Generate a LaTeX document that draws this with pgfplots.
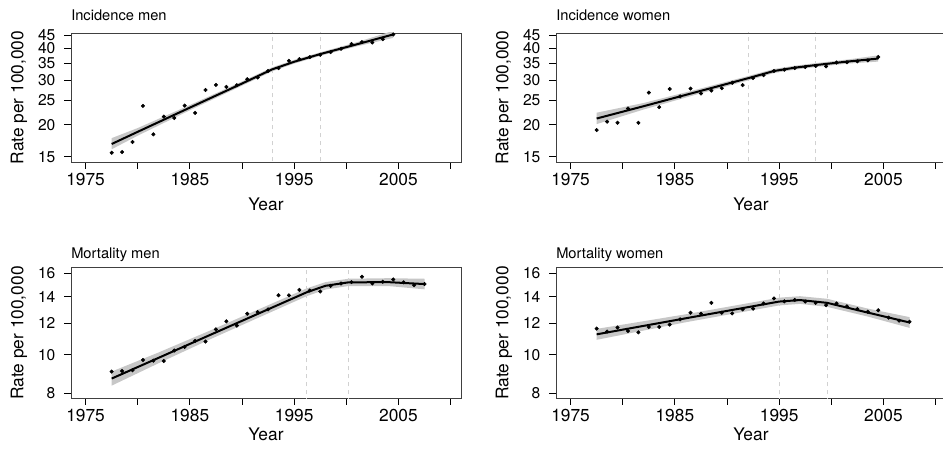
\documentclass[border=0pt]{standalone}
\usepackage{fontspec}
\setmainfont{TeX Gyre Heros}
\usepackage{pgfplots}
\pgfplotsset{compat=1.18}
\usepackage{pgfplotstable}

% Observed rates per 100,000 (plotted at mid-year)
\pgfplotstableread{
x y
1977.5 15.55
1978.5 15.65
1979.5 17.14
1980.5 23.76
1981.5 18.37
1982.5 21.57
1983.5 21.31
1984.5 23.83
1985.5 22.30
1986.5 27.45
1987.5 28.74
1988.5 28.22
1989.5 28.66
1990.5 30.27
1991.5 30.74
1992.5 32.60
1993.5 33.46
1994.5 35.75
1995.5 36.30
1996.5 36.97
1997.5 37.76
1998.5 38.70
1999.5 39.87
2000.5 41.60
2001.5 42.36
2002.5 42.20
2003.5 43.50
2004.5 45.40
}\IMobs

\pgfplotstableread{
x y
1977.5 19.1
1978.5 20.6
1979.5 20.4
1980.5 23.2
1981.5 20.4
1982.5 26.8
1983.5 23.5
1984.5 27.7
1985.5 25.9
1986.5 27.8
1987.5 26.6
1988.5 27.3
1989.5 27.9
1990.5 29.3
1991.5 28.7
1992.5 30.6
1993.5 31.4
1994.5 32.6
1995.5 33.0
1996.5 33.5
1997.5 33.8
1998.5 34.1
1999.5 34.0
2000.5 35.2
2001.5 35.3
2002.5 35.6
2003.5 35.9
2004.5 37.0
}\IWobs

\pgfplotstableread{
x y
1977.5 9.07
1978.5 9.10
1979.5 9.14
1980.5 9.70
1981.5 9.66
1982.5 9.64
1983.5 10.24
1984.5 10.46
1985.5 10.83
1986.5 10.79
1987.5 11.58
1988.5 12.13
1989.5 11.83
1990.5 12.68
1991.5 12.80
1992.5 13.00
1993.5 14.10
1994.5 14.10
1995.5 14.55
1996.5 14.50
1997.5 14.42
1998.5 14.90
1999.5 15.10
2000.5 15.22
2001.5 15.70
2002.5 15.10
2003.5 15.25
2004.5 15.46
2005.5 15.20
2006.5 14.96
2007.5 15.05
}\MMobs

\pgfplotstableread{
x y
1977.5 11.63
1978.5 11.43
1979.5 11.70
1980.5 11.47
1981.5 11.38
1982.5 11.74
1983.5 11.74
1984.5 11.90
1985.5 12.27
1986.5 12.75
1987.5 12.68
1988.5 13.50
1989.5 12.75
1990.5 12.70
1991.5 13.00
1992.5 13.05
1993.5 13.45
1994.5 13.85
1995.5 13.62
1996.5 13.73
1997.5 13.60
1998.5 13.50
1999.5 13.32
2000.5 13.45
2001.5 13.23
2002.5 13.02
2003.5 12.82
2004.5 12.93
2005.5 12.39
2006.5 12.18
2007.5 12.10
}\MWobs

% Joinpoint fits
\pgfplotstableread{
x y
1977.5 16.83
1980.0 18.80
1985.0 23.40
1990.0 29.10
1992.9 33.10
1995.0 35.45
1997.5 38.00
2001.0 41.50
2004.5 45.40
}\IMfit

\pgfplotstableread{
x y
1977.5 21.20
1982.0 23.70
1987.0 26.90
1992.1 30.60
1994.5 32.60
1996.5 33.60
1998.5 34.40
2001.5 35.50
2004.5 36.50
}\IWfit

\pgfplotstableread{
x y
1977.5 8.71
1982.0 9.82
1987.0 11.23
1992.0 12.83
1996.2 14.35
1998.0 14.90
2000.2 15.20
2004.0 15.22
2007.5 15.05
}\MMfit

\pgfplotstableread{
x y
1977.5 11.25
1986.0 12.34
1995.0 13.60
1997.0 13.72
1999.6 13.50
2003.5 12.76
2007.5 12.05
}\MWfit

% 95% confidence bands: upper limit forward, lower limit back
\pgfplotstableread{
x y
1977.5 17.75
1980.0 19.45
1985.0 23.95
1990.0 29.65
1992.9 33.70
1995.0 36.05
1997.5 38.60
2001.0 42.30
2004.5 46.90
2004.5 44.00
2001.0 40.75
1997.5 37.40
1995.0 34.85
1992.9 32.50
1990.0 28.55
1985.0 22.85
1980.0 18.15
1977.5 16.05
}\IMband

\pgfplotstableread{
x y
1977.5 22.35
1982.0 24.40
1987.0 27.50
1992.1 31.20
1994.5 33.20
1996.5 34.20
1998.5 35.00
2001.5 36.15
2004.5 37.55
2004.5 35.50
2001.5 34.85
1998.5 33.80
1996.5 33.00
1994.5 32.00
1992.1 30.00
1987.0 26.30
1982.0 23.00
1977.5 20.15
}\IWband

\pgfplotstableread{
x y
1977.5 9.07
1982.0 10.13
1987.0 11.52
1992.0 13.14
1996.2 14.68
1998.0 15.22
2000.2 15.52
2004.0 15.57
2007.5 15.52
2007.5 14.60
2004.0 14.88
2000.2 14.88
1998.0 14.58
1996.2 14.03
1992.0 12.53
1987.0 10.95
1982.0 9.52
1977.5 8.36
}\MMband

\pgfplotstableread{
x y
1977.5 11.61
1986.0 12.63
1995.0 13.91
1997.0 14.03
1999.6 13.82
2003.5 13.06
2007.5 12.43
2007.5 11.68
2003.5 12.47
1999.6 13.19
1997.0 13.42
1995.0 13.30
1986.0 12.06
1977.5 10.90
}\MWband

\newcommand{\labfont}{\fontsize{13}{15}\selectfont}
\newcommand{\yfont}{\fontsize{11.7}{13}\selectfont}
\newcommand{\titfont}{\fontsize{11}{13}\selectfont}

\pgfplotsset{
  jpanel/.style={
    scale only axis, anchor=south west,
    width=292.5pt,
    xmin=1973.6, xmax=2011,
    xtick={1975,1980,1985,1990,1995,2000,2005,2010},
    xticklabels={1975,,1985,,1995,,2005,},
    xtick pos=left, ytick pos=left,
    tick align=outside,
    major tick length=5pt,
    axis line style={draw=black!75, line width=0.7pt},
    every tick/.style={black, line width=0.7pt},
    xticklabel style={font=\labfont},
    yticklabel style={font=\yfont, inner xsep=0pt, inner ysep=0pt, xshift=-6.5pt},
    xlabel={\labfont Year}, ylabel={\labfont Rate per 100,000},
    every axis x label/.style={at={(axis description cs:0.5,0)}, anchor=base, inner sep=0pt},
    every axis y label/.style={at={(axis description cs:-0.1223,0.5)}, rotate=90, anchor=base, inner sep=0pt},
    every axis title shift=0pt,
    every axis title/.style={at={(axis description cs:0,1)}, anchor=base west, inner sep=0pt},
  },
  jincid/.style={ymin=14.3, ymax=46,
    ytick={15,20,25,30,35,40,45}, yticklabels={15,20,25,30,35,40,45},
    height=96.75pt, title style={yshift=9.5pt},
    every axis x label/.append style={yshift=-36.5pt}},
  jmort/.style={ymin=7.77, ymax=16.55,
    ytick={8,10,12,14,16}, yticklabels={8,10,12,14,16},
    height=98pt, title style={yshift=7pt},
    every axis x label/.append style={yshift=-31.5pt}},
  jband/.style={fill=black!22, draw=none},
  jfit/.style={black, line width=1.5pt},
  jobs/.style={only marks, mark=*, mark size=1.3pt, black},
  jjoint/.style={black!18, line width=0.75pt, dash pattern=on 3pt off 3pt},
}

\begin{document}
\begin{tikzpicture}

% Incidence, men
\begin{axis}[ymode=log, jpanel, jincid, at={(53.25pt,215.25pt)}, title={\titfont Incidence men}]
  \addplot[jband] table[x=x, y=y] {\IMband} -- cycle;
  \addplot[jjoint] coordinates {(1992.9,10) (1992.9,60)};
  \addplot[jjoint] coordinates {(1997.5,10) (1997.5,60)};
  \addplot[jfit] table[x=x, y=y] {\IMfit};
  \addplot[jobs] table[x=x, y=y] {\IMobs};
\end{axis}

% Incidence, women
\begin{axis}[ymode=log, jpanel, jincid, at={(417pt,215.25pt)}, title={\titfont Incidence women}]
  \addplot[jband] table[x=x, y=y] {\IWband} -- cycle;
  \addplot[jjoint] coordinates {(1992.1,10) (1992.1,60)};
  \addplot[jjoint] coordinates {(1998.5,10) (1998.5,60)};
  \addplot[jfit] table[x=x, y=y] {\IWfit};
  \addplot[jobs] table[x=x, y=y] {\IWobs};
\end{axis}

% Mortality, men
\begin{axis}[ymode=log, jpanel, jmort, at={(53.25pt,38pt)}, title={\titfont Mortality men}]
  \addplot[jband] table[x=x, y=y] {\MMband} -- cycle;
  \addplot[jjoint] coordinates {(1996.2,5) (1996.2,20)};
  \addplot[jjoint] coordinates {(2000.2,5) (2000.2,20)};
  \addplot[jfit] table[x=x, y=y] {\MMfit};
  \addplot[jobs] table[x=x, y=y] {\MMobs};
\end{axis}

% Mortality, women
\begin{axis}[ymode=log, jpanel, jmort, at={(417pt,38pt)}, title={\titfont Mortality women}]
  \addplot[jband] table[x=x, y=y] {\MWband} -- cycle;
  \addplot[jjoint] coordinates {(1995.0,5) (1995.0,20)};
  \addplot[jjoint] coordinates {(1999.6,5) (1999.6,20)};
  \addplot[jfit] table[x=x, y=y] {\MWfit};
  \addplot[jobs] table[x=x, y=y] {\MWobs};
\end{axis}

\pgfresetboundingbox
\path[use as bounding box] (0,0) rectangle (707.25pt,336.75pt);
\end{tikzpicture}
\end{document}
